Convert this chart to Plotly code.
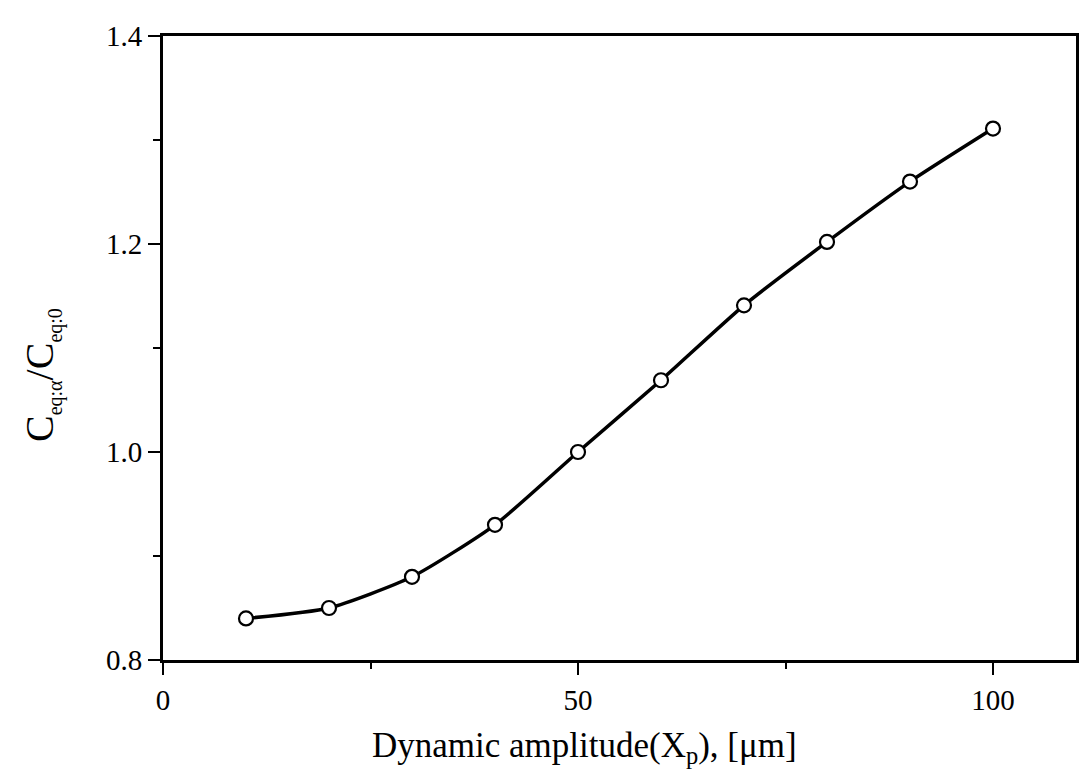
import plotly.graph_objects as go

amplitude = [10, 20, 30, 40, 50, 60, 70, 80, 90, 100]
ratio = [0.840, 0.850, 0.880, 0.930, 1.000, 1.069, 1.141, 1.202, 1.260, 1.311]

x_ticks = [0, 50, 100]
y_ticks = [0.8, 1.0, 1.2, 1.4]

FONT = "Liberation Serif"

fig = go.Figure()
fig.add_trace(go.Scatter(
    x=amplitude, y=ratio, mode="lines+markers",
    line=dict(color="black", width=3.5, shape="spline", smoothing=0.6),
    marker=dict(symbol="circle", size=14, color="white",
                line=dict(color="black", width=2.2)),
    showlegend=False,
))

axis_common = dict(
    showline=True, linecolor="black", linewidth=3, mirror=True,
    ticks="outside", ticklen=12, tickwidth=2, tickcolor="black",
    showgrid=False, zeroline=False,
    tickfont=dict(family=FONT, size=29, color="black"),
)

fig.update_layout(
    width=1083, height=771,
    paper_bgcolor="white", plot_bgcolor="white",
    margin=dict(l=155, r=15, t=23, b=119),
    font=dict(family=FONT, color="black"),
    xaxis=dict(
        range=[0, 110], tickvals=x_ticks, ticktext=[str(v) for v in x_ticks],
        minor=dict(tickvals=[25, 75], ticks="outside", ticklen=6, tickwidth=2, tickcolor="black"),
        **axis_common,
    ),
    yaxis=dict(
        range=[0.8, 1.4], tickvals=y_ticks, ticktext=["0.8", "1.0", "1.2", "1.4"],
        minor=dict(tickvals=[0.9, 1.1, 1.3], ticks="outside", ticklen=7, tickwidth=2, tickcolor="black"),
        **axis_common,
    ),
    annotations=[
        dict(text="Dynamic amplitude(X<sub>p</sub>), [μm]", xref="paper", yref="paper",
             x=0.462, y=-0.140, xanchor="center", yanchor="middle", showarrow=False,
             font=dict(family=FONT, size=35, color="black")),
        dict(text="C<sub><span style='font-size:20px'>eq:α</span></sub>/C<sub><span style='font-size:20px'>eq:0</span></sub>",
             xref="paper", yref="paper", textangle=-90,
             x=-0.133, y=0.456, xanchor="center", yanchor="middle", showarrow=False,
             font=dict(family=FONT, size=40, color="black")),
    ],
)

fig.write_html("out.html")
